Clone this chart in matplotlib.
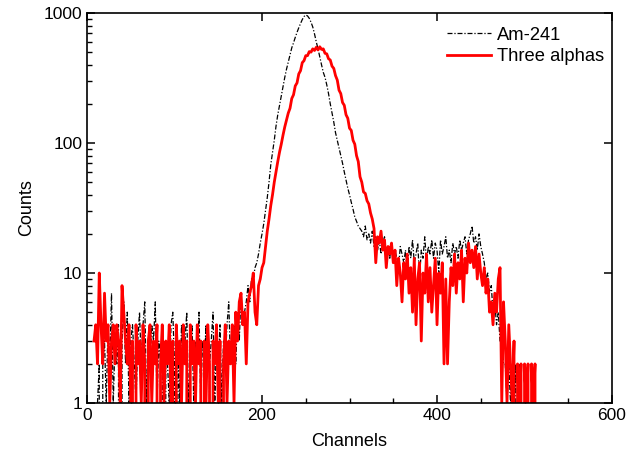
import numpy as np
import matplotlib.pyplot as plt
from matplotlib.ticker import MultipleLocator, LogLocator, NullFormatter

plt.rcParams['font.family'] = ['Liberation Sans', 'DejaVu Sans']

# Am-241 spectrum, channels 12..498 (step 2)
am_start = 12
am_counts = [
    1, 2, 0, 2, 3, 1, 4, 2, 7, 1, 3, 2, 4, 0, 3, 6, 2, 5, 1, 3,
    4, 2, 1, 3, 5, 2, 4, 6, 1, 3, 2, 4, 3, 6, 1, 3, 2, 4, 0, 3,
    2, 1, 4, 5, 2, 0, 3, 1, 4, 2, 3, 5, 1, 2, 4, 1, 3, 2, 5, 1,
    3, 2, 4, 0, 2, 3, 5, 1, 3, 2, 4, 1, 3, 2, 4, 6, 2, 3, 4, 2,
    5, 3, 7, 4,
    5, 6, 8, 6, 9, 9, 11, 12, 14, 17, 20, 24, 30, 38, 50, 68, 85, 105, 135, 165,
    195, 230, 275, 320, 370, 420, 475, 540, 590, 650, 710, 770, 830, 890, 940, 965,
    950, 910, 850, 780, 690, 600, 530, 460, 400, 350, 320, 280, 240, 200, 170, 145,
    120, 105, 92, 80, 70, 60, 52, 45, 40, 35, 31, 27, 25, 23, 22,
    21, 19, 23, 18, 20, 17, 21, 16, 19, 15, 18, 14, 17, 19, 14, 16, 13, 17, 12, 15,
    13, 11, 16, 14, 12, 15, 10, 16, 13, 18, 12, 14, 17, 9, 15, 13, 19, 12, 16, 14,
    18, 13, 17, 15, 10, 18, 14, 16, 19, 13, 15, 12, 17, 14, 16, 13, 18, 15, 17, 19,
    14, 18, 20, 23, 17, 19, 15, 20, 16, 14, 12, 9, 10, 7, 8, 5, 6, 4, 5, 3,
    3, 2, 2, 1, 2, 1, 2, 1, 2, 0, 2, 1, 0,
]

# three-alpha source spectrum, channels 8..516 (step 2)
ta_start = 8
ta_counts = [
    3, 4, 2, 10, 4, 2, 7, 3, 4, 1, 3, 4, 2, 4, 3, 1, 8, 5, 3, 2,
    4, 1, 3, 0, 4, 2, 3, 1, 4, 2, 0, 3, 4, 1, 3, 2, 4, 0, 2, 4,
    1, 3, 2, 4, 1, 3, 0, 4, 2, 3, 1, 4, 2, 3, 0, 4, 2, 3, 1, 4,
    2, 3, 0, 3, 1, 4, 2, 0, 3, 2, 4, 1, 3, 0, 2, 4, 1, 3, 2, 4,
    1, 5, 3, 6, 7, 4,
    5, 2, 6, 7, 8, 10, 5, 4, 8, 9, 11, 12, 16, 21, 26, 33, 40, 50, 60, 72,
    85, 98, 115, 133, 150, 170, 185, 220, 235, 275, 290, 340, 360, 415, 430, 470,
    470, 505, 500, 530, 515, 545, 520, 550, 525, 530, 490, 485, 445, 435, 390, 375,
    330, 305, 255, 240, 205, 195, 165, 155, 130, 125, 105, 98, 80, 72, 55, 50,
    42, 41, 36, 34, 29, 26, 22, 12, 19, 17, 21, 15, 18, 11, 16, 14, 17, 12, 15,
    8, 13, 10, 6, 12, 9, 14, 7, 11, 5, 13, 4, 9, 12, 3, 10, 7, 14, 6, 11,
    5, 8, 13, 4, 10, 7, 12, 2, 9, 2, 6, 11, 8, 14, 7, 12, 9, 15, 6, 13,
    10, 17, 12, 15, 11, 16, 9, 14, 10, 8, 11, 7, 9, 5, 6, 4, 7, 5, 9, 11,
    1, 6, 3, 1, 4, 2, 1, 3, 0, 2, 1, 2, 0, 2, 1, 2, 0, 2, 1, 2, 0,
]

am_channels = am_start + 2 * np.arange(len(am_counts))
ta_channels = ta_start + 2 * np.arange(len(ta_counts))

fig = plt.figure(figsize=(6.37, 4.58), dpi=100)
ax = fig.add_axes([0.1366, 0.12, 0.8242, 0.8516])

ax.plot(am_channels, am_counts, color='black', lw=0.9,
        ls=(0, (4, 1.5, 1, 1.5)), label='Am-241')
ax.plot(ta_channels, ta_counts, color='#ff0000', lw=2.0, label='Three alphas')

ax.set_yscale('log', nonpositive='clip')
ax.set_xlim(0, 600)
ax.set_ylim(1, 1000)

ax.xaxis.set_major_locator(MultipleLocator(200))
ax.xaxis.set_minor_locator(MultipleLocator(50))
ax.yaxis.set_minor_locator(LogLocator(base=10, subs=np.arange(2, 10)))
ax.yaxis.set_minor_formatter(NullFormatter())
ax.set_yticks([1, 10, 100, 1000])
ax.set_yticklabels(['1', '10', '100', '1000'])

ax.tick_params(which='major', direction='in', length=6, width=1.1,
               top=True, right=True, labelsize=12.5)
ax.tick_params(which='minor', direction='in', length=3.5, width=1.0,
               top=False, right=False)
for sp in ax.spines.values():
    sp.set_linewidth(1.2)

ax.set_xlabel('Channels', fontsize=13, labelpad=7)
ax.set_ylabel('Counts', fontsize=13, labelpad=6)

ax.legend(loc='upper right', bbox_to_anchor=(1.0, 0.986), frameon=False,
          fontsize=13.2, handlelength=2.4, handletextpad=0.3,
          borderaxespad=0.05, labelspacing=0.25)

fig.savefig('out.png', dpi=100)
